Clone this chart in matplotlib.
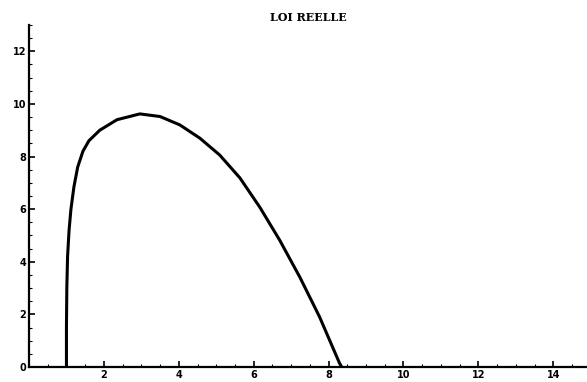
import matplotlib
matplotlib.use("Agg")
import matplotlib.pyplot as plt
from matplotlib.ticker import MultipleLocator
import numpy as np

# points
x_vals = [1.0, 1.0, 1.01, 1.03, 1.07, 1.12, 1.2, 1.3, 1.44, 1.6, 1.89, 2.35,
          2.96, 3.5, 4.03, 4.56, 5.09, 5.63, 6.16, 6.69, 7.23, 7.76, 8.29, 8.35]
y_vals = [0.0, 1.5, 3.0, 4.2, 5.2, 6.0, 6.85, 7.6, 8.2, 8.6, 9.0, 9.4,
          9.62, 9.52, 9.2, 8.7, 8.06, 7.19, 6.08, 4.83, 3.42, 1.9, 0.15, 0.0]

x_ticks = [2, 4, 6, 8, 10, 12, 14]
y_ticks = [0, 2, 4, 6, 8, 10, 12]
title = "LOI REELLE"

fig = plt.figure(figsize=(5.87, 3.82), dpi=100)
ax = fig.add_axes([0.0494, 0.0393, 0.9506, 0.8953])

ax.plot(x_vals, y_vals, color="black", linewidth=2.2, solid_joinstyle="round")

ax.set_xlim(0, 14.9)
ax.set_ylim(0, 13.0)
ax.spines["top"].set_visible(False)
ax.spines["right"].set_visible(False)
ax.spines["left"].set_linewidth(1.6)
ax.spines["bottom"].set_linewidth(1.6)

ax.set_xticks(x_ticks)
ax.set_yticks(y_ticks)
ax.xaxis.set_minor_locator(MultipleLocator(0.5))
ax.yaxis.set_minor_locator(MultipleLocator(0.5))
ax.tick_params(which="major", direction="in", length=4, width=1.2, labelsize=7, pad=2)
ax.tick_params(which="minor", direction="in", length=2, width=0.8)
for lab in ax.get_xticklabels() + ax.get_yticklabels():
    lab.set_fontweight("bold")

fig.text(0.525, 0.955, title, ha="center", va="center", fontsize=8,
         fontweight="bold", family="DejaVu Serif")

fig.savefig("out.png", dpi=100)
